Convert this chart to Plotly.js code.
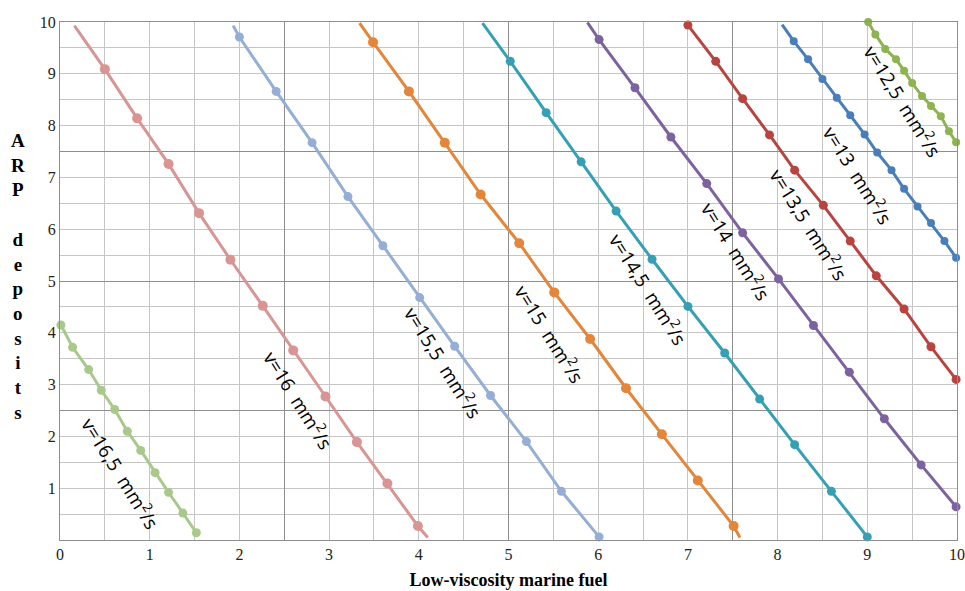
<!DOCTYPE html>
<html>
<head>
<meta charset="utf-8">
<script src="https://cdn.plot.ly/plotly-3.0.1.min.js"></script>
<style>html,body{margin:0;padding:0;background:#fff;}</style>
</head>
<body>
<div id="chart" style="width:965px;height:591px;"></div>
<script>
// ---- data ----
const seriesNames = ['v=16,5', 'v=16', 'v=15,5', 'v=15', 'v=14,5', 'v=14', 'v=13,5', 'v=13', 'v=12,5'];

const v165_x = [0.01, 0.14, 0.32, 0.46, 0.61, 0.75, 0.90, 1.06, 1.21, 1.37, 1.52];
const v165_y = [4.15, 3.72, 3.29, 2.89, 2.52, 2.10, 1.73, 1.30, 0.92, 0.52, 0.14];

const v16_x = [0.50, 0.86, 1.21, 1.55, 1.90, 2.26, 2.60, 2.96, 3.31, 3.65, 3.99];
const v16_y = [9.09, 8.14, 7.26, 6.31, 5.41, 4.52, 3.66, 2.77, 1.89, 1.09, 0.27];
const v16_lineStart = [0.16, 9.93];
const v16_lineEnd = [4.10, 0.05];

const v155_x = [2.00, 2.41, 2.81, 3.21, 3.60, 4.01, 4.40, 4.80, 5.20, 5.59, 6.01];
const v155_y = [9.71, 8.66, 7.67, 6.63, 5.68, 4.68, 3.74, 2.79, 1.90, 0.94, 0.06];
const v155_lineStart = [1.93, 9.93];

const v15_x = [3.49, 3.89, 4.29, 4.69, 5.12, 5.51, 5.91, 6.31, 6.71, 7.11, 7.51];
const v15_y = [9.61, 8.66, 7.67, 6.67, 5.73, 4.78, 3.88, 2.93, 2.04, 1.15, 0.27];
const v15_lineStart = [3.34, 9.98];
const v15_lineEnd = [7.58, 0.05];

const v145_x = [5.02, 5.42, 5.81, 6.20, 6.60, 7.00, 7.41, 7.80, 8.19, 8.60, 9.00];
const v145_y = [9.24, 8.25, 7.30, 6.35, 5.42, 4.51, 3.61, 2.72, 1.84, 0.94, 0.06];
const v145_lineStart = [4.71, 9.98];

const v14_x = [6.01, 6.41, 6.81, 7.21, 7.61, 8.01, 8.40, 8.80, 9.19, 9.60, 9.99];
const v14_y = [9.66, 8.73, 7.78, 6.88, 5.93, 5.04, 4.14, 3.24, 2.34, 1.45, 0.64];
const v14_lineStart = [5.88, 9.99];

const v135_x = [7.00, 7.31, 7.61, 7.91, 8.19, 8.51, 8.81, 9.10, 9.41, 9.71, 9.99];
const v135_y = [9.94, 9.24, 8.52, 7.82, 7.14, 6.46, 5.77, 5.10, 4.46, 3.73, 3.10];

const v13_x = [8.18, 8.34, 8.50, 8.66, 8.81, 8.97, 9.11, 9.27, 9.41, 9.56, 9.71, 9.86, 9.99];
const v13_y = [9.63, 9.28, 8.90, 8.54, 8.20, 7.83, 7.48, 7.14, 6.78, 6.44, 6.12, 5.77, 5.45];
const v13_lineStart = [8.05, 9.95];

const v125_x = [9.01, 9.09, 9.20, 9.32, 9.41, 9.50, 9.61, 9.71, 9.82, 9.91, 9.99];
const v125_y = [10.0, 9.76, 9.48, 9.28, 9.06, 8.82, 8.57, 8.38, 8.18, 7.89, 7.68];

const labelTexts = [
  'v=16,5  mm<sup>2</sup>/s', 'v=16  mm<sup>2</sup>/s', 'v=15,5  mm<sup>2</sup>/s',
  'v=15  mm<sup>2</sup>/s', 'v=14,5  mm<sup>2</sup>/s', 'v=14  mm<sup>2</sup>/s',
  'v=13,5  mm<sup>2</sup>/s', 'v=13  mm<sup>2</sup>/s', 'v=12,5  mm<sup>2</sup>/s'
];
const xTickVals = [0, 1, 2, 3, 4, 5, 6, 7, 8, 9, 10];
const yTickVals = [1, 2, 3, 4, 5, 6, 7, 8, 9, 10];
const xTitle = 'Low-viscosity marine fuel';
const yTitleLetters = ['A', 'R', 'P', ' ', 'd', 'e', 'p', 'o', 's', 'i', 't', 's'];

// ---- styling / placement ----
const series = [
  {x: v165_x, y: v165_y, start: null, end: null, color: '#a9c98c', size: 9},
  {x: v16_x, y: v16_y, start: v16_lineStart, end: v16_lineEnd, color: '#d99594', size: 10},
  {x: v155_x, y: v155_y, start: v155_lineStart, end: null, color: '#95aed6', size: 9},
  {x: v15_x, y: v15_y, start: v15_lineStart, end: v15_lineEnd, color: '#e3863b', size: 10},
  {x: v145_x, y: v145_y, start: v145_lineStart, end: null, color: '#35a0b5', size: 9},
  {x: v14_x, y: v14_y, start: v14_lineStart, end: null, color: '#7d62a0', size: 9},
  {x: v135_x, y: v135_y, start: null, end: null, color: '#b9443f', size: 9},
  {x: v13_x, y: v13_y, start: v13_lineStart, end: null, color: '#4a7ebb', size: 8},
  {x: v125_x, y: v125_y, start: null, end: null, color: '#8db450', size: 8}
];
// label anchor positions in data units + rotation
const labelPos = [
  [0.68, 1.30], [2.66, 2.70], [4.27, 3.43], [5.46, 3.97], [6.56, 4.84],
  [7.54, 5.58], [8.35, 6.10], [8.90, 7.05], [9.40, 8.48]
];
const labelAngle = 58;

const traces = [];
series.forEach((s, i) => {
  const lx = (s.start ? [s.start[0]] : []).concat(s.x, s.end ? [s.end[0]] : []);
  const ly = (s.start ? [s.start[1]] : []).concat(s.y, s.end ? [s.end[1]] : []);
  traces.push({
    type: 'scatter', mode: 'lines', x: lx, y: ly, name: seriesNames[i],
    line: {color: s.color, width: 3}, hoverinfo: 'skip', showlegend: false
  });
  traces.push({
    type: 'scatter', mode: 'markers', x: s.x, y: s.y, name: seriesNames[i],
    marker: {color: s.color, size: s.size}, cliponaxis: false, showlegend: false
  });
});
// helper trace for the overlay grid axes (every 2.5)
traces.push({type: 'scatter', mode: 'markers', x: [null], y: [null], xaxis: 'x2', yaxis: 'y2',
  showlegend: false, hoverinfo: 'skip'});

const annotations = labelTexts.map((t, i) => ({
  x: labelPos[i][0], y: labelPos[i][1], xref: 'x', yref: 'y',
  text: t, showarrow: false, textangle: labelAngle,
  font: {family: 'Open Sans, sans-serif', size: 19, color: '#000'},
  xanchor: 'center', yanchor: 'middle'
}));
annotations.push({
  x: -0.047, y: 0.508, xref: 'paper', yref: 'paper',
  text: yTitleLetters.join('<br>'), showarrow: false,
  font: {family: 'Liberation Serif, serif', size: 19, color: '#000', weight: 'bold'},
  xanchor: 'center', yanchor: 'middle', align: 'center'
});

const tickFont = {family: 'Liberation Serif, serif', size: 16, color: '#222'};
const lightGrid = '#c6c6c6';
const darkGrid = '#8e8e8e';

const layout = {
  width: 965, height: 591,
  margin: {l: 60, r: 8, t: 22, b: 51},
  paper_bgcolor: '#fff', plot_bgcolor: '#fff',
  showlegend: false,
  xaxis: {
    range: [0, 10], tickmode: 'array', tickvals: xTickVals,
    showgrid: true, gridcolor: lightGrid, gridwidth: 1,
    minor: {dtick: 0.5, tick0: 0, showgrid: true, gridcolor: lightGrid, gridwidth: 1},
    zeroline: false, showline: true, linecolor: darkGrid, linewidth: 1, mirror: true,
    ticks: '', tickfont: tickFont,
    title: {text: xTitle, font: {family: 'Liberation Serif, serif', size: 18, color: '#000', weight: 'bold'}, standoff: 11}
  },
  yaxis: {
    range: [0, 10], tickmode: 'array', tickvals: yTickVals,
    showgrid: true, gridcolor: lightGrid, gridwidth: 1,
    minor: {dtick: 0.5, tick0: 0, showgrid: true, gridcolor: lightGrid, gridwidth: 1},
    zeroline: false, showline: true, linecolor: darkGrid, linewidth: 1, mirror: true,
    ticks: '', tickfont: tickFont
  },
  xaxis2: {
    overlaying: 'x', anchor: 'y2', range: [0, 10], tick0: 0, dtick: 2.5,
    showgrid: true, gridcolor: darkGrid, gridwidth: 1,
    showticklabels: false, ticks: '', zeroline: false, showline: false
  },
  yaxis2: {
    overlaying: 'y', anchor: 'x2', range: [0, 10], tick0: 0, dtick: 2.5,
    showgrid: true, gridcolor: darkGrid, gridwidth: 1,
    showticklabels: false, ticks: '', zeroline: false, showline: false
  },
  annotations: annotations
};

Plotly.newPlot('chart', traces, layout, {displayModeBar: false, staticPlot: true});
</script>
</body>
</html>
